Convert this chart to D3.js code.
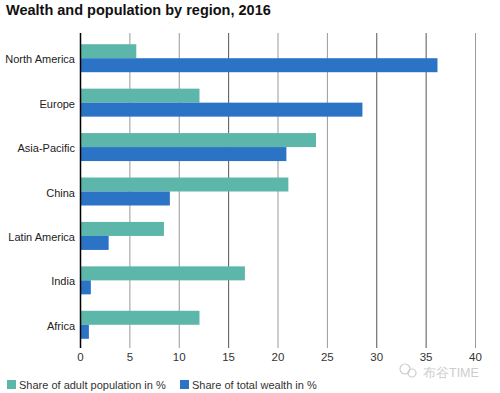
<!DOCTYPE html>
<html>
<head>
<meta charset="utf-8">
<script src="https://cdn.jsdelivr.net/npm/d3@7"></script>
<style>
  body { margin: 0; background: #fff; }
  text { font-family: "Liberation Sans", Arial, sans-serif; }
</style>
</head>
<body>
<div id="chart"></div>
<script>
var regions = ['North America', 'Europe', 'Asia-Pacific', 'China', 'Latin America', 'India', 'Africa'];
var seriesNames = ['Share of adult population in %', 'Share of total wealth in %'];
var population = [5.7, 12.1, 23.9, 21.1, 8.5, 16.7, 12.1];
var wealth = [36.2, 28.6, 20.9, 9.1, 2.9, 1.1, 0.9];
var ticks = [0, 5, 10, 15, 20, 25, 30, 35, 40];
var colors = ['#5cb6a9', '#2b73c5'];

var width = 500;
var height = 393;

var svg = d3.select('#chart')
    .append('svg')
    .attr('width', width)
    .attr('height', height);

var scaleX = d3.scaleLinear()
    .domain([0, 40])
    .range([80, 475]);

var scaleY = d3.scaleBand()
    .domain(regions)
    .range([36, 347])
    .paddingInner(0.37)
    .paddingOuter(0.185);

var scaleSeries = d3.scaleBand()
    .domain([0, 1])
    .range([0, scaleY.bandwidth()]);

// title
svg.append('text')
    .attr('x', 6)
    .attr('y', 15)
    .attr('font-size', 14.5)
    .attr('font-weight', 'bold')
    .attr('fill', '#111')
    .text('Wealth and population by region, 2016');

// grid
svg.append('g')
    .selectAll('line')
    .data(ticks.slice(1))
    .enter()
    .append('line')
    .attr('x1', (d) => scaleX(d) + 0.5)
    .attr('x2', (d) => scaleX(d) + 0.5)
    .attr('y1', 33)
    .attr('y2', 348)
    .attr('stroke', (d) => (d == 15 || d == 30 || d == 35) ? '#555' : '#999')
    .attr('stroke-width', 1);

// bars
var rows = regions.map((r, i) => ({region: r, values: [population[i], wealth[i]]}));

var groups = svg.append('g')
    .selectAll('g')
    .data(rows)
    .enter()
    .append('g')
    .attr('transform', (d) => 'translate(0,' + scaleY(d.region) + ')');

groups.selectAll('rect')
    .data((d) => d.values)
    .enter()
    .append('rect')
    .attr('x', scaleX(0))
    .attr('y', (d, i) => scaleSeries(i))
    .attr('width', (d) => scaleX(d) - scaleX(0))
    .attr('height', scaleSeries.bandwidth())
    .attr('fill', (d, i) => colors[i]);

// zero line
svg.append('line')
    .attr('x1', scaleX(0) + 0.5)
    .attr('x2', scaleX(0) + 0.5)
    .attr('y1', 33)
    .attr('y2', 348)
    .attr('stroke', '#000')
    .attr('stroke-width', 1.5);

// category labels
svg.append('g')
    .selectAll('text')
    .data(regions)
    .enter()
    .append('text')
    .attr('x', 75)
    .attr('y', (d) => scaleY(d) + scaleY.bandwidth() / 2 + 5)
    .attr('text-anchor', 'end')
    .attr('font-size', 11)
    .attr('fill', '#222')
    .text((d) => d);

// tick labels
svg.append('g')
    .selectAll('text')
    .data(ticks)
    .enter()
    .append('text')
    .attr('x', (d) => scaleX(d) + 0.5)
    .attr('y', 361)
    .attr('text-anchor', 'middle')
    .attr('font-size', 11.5)
    .attr('fill', '#333')
    .text((d) => d);

// watermark
var wm = svg.append('g').attr('fill', 'none').attr('stroke', '#cdcdcd').attr('stroke-width', 1.2);
wm.append('circle').attr('cx', 405).attr('cy', 369).attr('r', 5);
wm.append('circle').attr('cx', 412).attr('cy', 373).attr('r', 4);
svg.append('text')
    .attr('x', 423)
    .attr('y', 376.5)
    .attr('font-size', 12.5)
    .attr('font-family', '"Noto Sans CJK SC", sans-serif')
    .attr('fill', '#cdcdcd')
    .text('布谷TIME');

// legend
var legendX = [7, 180];
var legend = svg.append('g')
    .selectAll('g')
    .data(seriesNames)
    .enter()
    .append('g')
    .attr('transform', (d, i) => 'translate(' + legendX[i] + ',381)');

legend.append('rect')
    .attr('width', 9)
    .attr('height', 9)
    .attr('y', -1)
    .attr('fill', (d, i) => colors[i]);

legend.append('text')
    .attr('x', 12)
    .attr('y', 7.5)
    .attr('font-size', 11)
    .attr('fill', '#333')
    .text((d) => d);
</script>
</body>
</html>
